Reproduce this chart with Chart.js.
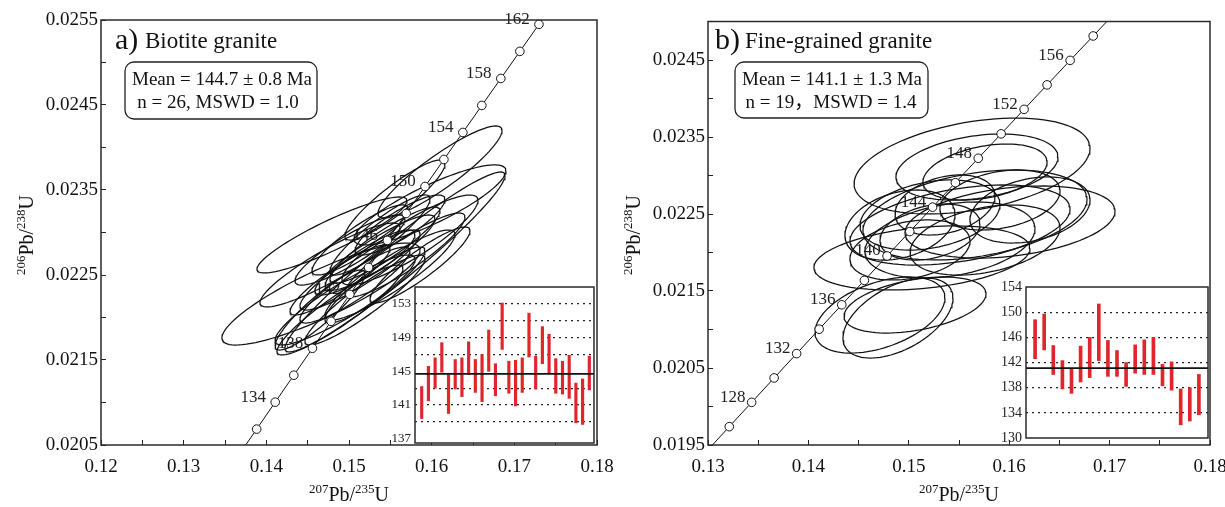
<!DOCTYPE html>
<html>
<head>
<meta charset="utf-8">
<title>U-Pb concordia diagrams</title>
<script src="https://cdn.jsdelivr.net/npm/chart.js@4.4.1/dist/chart.umd.min.js"></script>
<style>
  html, body { margin: 0; padding: 0; background: #fff; }
  #fig { position: relative; width: 1225px; height: 507px; overflow: hidden; }
  #fig canvas { position: absolute; }
</style>
</head>
<body>
<div id="fig">
  <canvas id="plotA" width="1225" height="507" style="left:0;top:0"></canvas>
  <canvas id="plotB" width="1225" height="507" style="left:0;top:0"></canvas>
  <canvas id="meanA" width="215" height="170" style="left:385px;top:278px"></canvas>
  <canvas id="meanB" width="225" height="165" style="left:990px;top:278px"></canvas>
</div>
<script>
// concordia reference points: age (Ma), 207Pb/235U, 206Pb/238U
const concordiaAge = [124, 126, 128, 130, 132, 134, 136, 138, 140, 142, 144, 146, 148, 150, 152, 154, 156, 158, 160, 162, 164];
const concordiaX = [0.129891, 0.132119, 0.134351, 0.136588, 0.138829, 0.141074, 0.143324, 0.145578, 0.147837, 0.150100, 0.152367,
                    0.154639, 0.156916, 0.159198, 0.161482, 0.163773, 0.166068, 0.168366, 0.170670, 0.172978, 0.175290];
const concordiaY = [0.019422, 0.019738, 0.020054, 0.020371, 0.020687, 0.021004, 0.021321, 0.021638, 0.021955, 0.022272, 0.022589,
                    0.022907, 0.023224, 0.023541, 0.023859, 0.024177, 0.024495, 0.024812, 0.025131, 0.025449, 0.025767];
const labelAgesA = [134, 138, 142, 146, 150, 154, 158, 162];
const labelAgesB = [128, 132, 136, 140, 144, 148, 152, 156];

// a) biotite granite: ellipse centre, 2s half width, correlation
const aX   = [0.14661, 0.14794, 0.16101, 0.15980, 0.15556, 0.15738, 0.14952, 0.14891, 0.14770, 0.15133, 0.15314, 0.15072, 0.15435,
              0.15193, 0.15375, 0.15012, 0.15496, 0.15254, 0.15677, 0.14891, 0.15617, 0.14649, 0.15133, 0.15859, 0.15314, 0.15556];
const aSX  = [0.01198, 0.00907, 0.00750, 0.00919, 0.01331, 0.00823, 0.00847, 0.00762, 0.00847, 0.00726, 0.00726, 0.00665, 0.00665,
              0.00726, 0.00605, 0.00665, 0.00786, 0.00544, 0.00726, 0.00605, 0.00544, 0.00544, 0.00581, 0.00605, 0.00605, 0.00605];
const aY   = [0.022276, 0.022971, 0.023712, 0.023324, 0.022653, 0.022912, 0.022206, 0.022088, 0.022618, 0.022559, 0.022735, 0.022382, 0.022853,
              0.022206, 0.022971, 0.022794, 0.022500, 0.022676, 0.022735, 0.022441, 0.023088, 0.022088, 0.022912, 0.022618, 0.022382, 0.023382];
const aSY  = [0.000600, 0.000447, 0.000541, 0.000471, 0.001059, 0.000529, 0.000529, 0.000529, 0.000494, 0.000471, 0.000471, 0.000447, 0.000447,
              0.000529, 0.000471, 0.000412, 0.000529, 0.000353, 0.000494, 0.000412, 0.000353, 0.000471, 0.000412, 0.000447, 0.000447, 0.000471];
const aRho = [0.86, 0.90, 0.90, 0.85, 0.96, 0.88, 0.90, 0.92, 0.90, 0.90, 0.90, 0.90, 0.90,
              0.92, 0.90, 0.88, 0.90, 0.85, 0.90, 0.90, 0.85, 0.90, 0.88, 0.90, 0.90, 0.90];

// b) fine-grained granite
const bX   = [0.15630, 0.15679, 0.15759, 0.16008, 0.15659, 0.15510, 0.15211, 0.14912, 0.15131, 0.15410, 0.15759, 0.15908, 0.15361,
              0.15012, 0.14713, 0.15062, 0.14892, 0.15211, 0.16207];
const bSX  = [0.01175, 0.00807, 0.00618, 0.01046, 0.01116, 0.01096, 0.00697, 0.00548, 0.01076, 0.00847, 0.00747, 0.00598, 0.00498,
              0.00598, 0.00647, 0.00707, 0.00548, 0.00498, 0.00598];
const bY   = [0.023123, 0.023110, 0.023045, 0.022396, 0.022487, 0.022357, 0.022487, 0.022357, 0.021929, 0.022162, 0.022162, 0.022682, 0.022617,
              0.022033, 0.021188, 0.021318, 0.021149, 0.022266, 0.022552];
const bSY  = [0.000623, 0.000429, 0.000364, 0.000468, 0.000584, 0.000520, 0.000455, 0.000455, 0.000416, 0.000494, 0.000455, 0.000390, 0.000390,
              0.000390, 0.000494, 0.000364, 0.000520, 0.000364, 0.000429];
const bRho = [0.37, 0.30, 0.35, 0.30, 0.35, 0.40, 0.30, 0.30, 0.30, 0.30, 0.35, 0.30, 0.30,
              0.30, 0.45, 0.40, 0.50, 0.30, 0.30];

// weighted mean insets: 206Pb/238U age ranges (Ma)
const aAgeLow  = [139.4, 141.5, 143.0, 144.9, 140.0, 142.9, 142.0, 144.6, 142.5, 141.4, 145.0, 142.1, 147.6,
                  142.4, 140.9, 142.5, 146.7, 142.9, 145.9, 144.8, 142.4, 142.3, 141.8, 138.9, 138.7, 142.8];
const aAgeHigh = [143.2, 145.6, 146.6, 148.4, 144.6, 146.4, 146.6, 148.5, 146.4, 147.0, 149.9, 145.9, 153.1,
                  146.2, 146.3, 146.6, 151.9, 146.8, 150.3, 149.4, 146.5, 146.2, 146.9, 143.6, 144.1, 146.8];
const bAgeLow  = [142.6, 144.0, 140.1, 137.8, 137.1, 138.9, 139.6, 142.3, 139.8, 139.8, 138.2, 140.3, 140.1, 140.1, 138.3, 137.6, 132.1, 132.7, 133.7];
const bAgeHigh = [148.8, 149.7, 144.7, 142.3, 141.0, 144.6, 146.0, 151.3, 145.5, 143.9, 142.0, 144.8, 145.6, 146.0, 141.7, 142.1, 137.8, 138.0, 140.1];
const aMean = 144.7, bMean = 141.1;
const aInsetTicks = [137, 139, 141, 143, 145, 147, 149, 151, 153];
const bInsetTicks = [130, 134, 138, 142, 146, 150, 154];

const FONT = '"Liberation Serif", "Times New Roman", "Noto Sans CJK SC", serif';
Chart.defaults.font.family = FONT;

// outline of an error ellipse (half widths sx, sy with correlation rho)
function ellipse(cx, sx, cy, sy, rho){
const pts = [], k = Math.sqrt(1 - rho*rho), n = 96;
for (let i = 0; i <= n; i++){
const t = 2*Math.PI*i/n;
pts.push({ x: cx + sx*Math.cos(t), y: cy + sy*(rho*Math.cos(t) + k*Math.sin(t)) });
}
return pts;
}

function supText(ctx, parts, x, y, big, small){
const fonts = parts.map(p => (p[1] ? small : big) + 'px ' + FONT);
let w = 0;
const ws = parts.map((p, i) => { ctx.font = fonts[i]; const m = ctx.measureText(p[0]).width; w += m; return m; });
let cx = x - w/2;
ctx.textAlign = 'left'; ctx.textBaseline = 'alphabetic';
parts.forEach((p, i) => { ctx.font = fonts[i]; ctx.fillText(p[0], cx, p[1] ? y - 8 : y); cx += ws[i]; });
}

const frame = {
id: 'frame',
afterDatasetsDraw(chart){
const a = chart.chartArea, ctx = chart.ctx;
ctx.save(); ctx.strokeStyle = '#2a2a2a'; ctx.lineWidth = 1.5;
ctx.strokeRect(a.left, a.top, a.right - a.left, a.bottom - a.top);
ctx.restore();
}
};

function concordiaChart(id, p){
const curve = concordiaAge.map((t, i) => ({ x: concordiaX[i], y: concordiaY[i] }));
const datasets = [{ data: curve, showLine: true, borderColor: '#111', borderWidth: 1, pointRadius: 0, order: 2 }];
p.ex.forEach((cx, i) => {
datasets.push({ data: ellipse(cx, p.esx[i], p.ey[i], p.esy[i], p.rho[i]), showLine: true,
borderColor: '#111', borderWidth: 1.25, pointRadius: 0, order: 1 });
});
datasets.push({ data: curve, pointRadius: 4.3, pointBackgroundColor: '#fff', pointBorderColor: '#111', pointBorderWidth: 1, order: 0 });

const ageLabels = {
id: 'ageLabels',
beforeDatasetsDraw(chart){
const ctx = chart.ctx, xs = chart.scales.x, ys = chart.scales.y;
ctx.save(); ctx.fillStyle = '#222'; ctx.font = '17px ' + FONT;
ctx.textAlign = 'center'; ctx.textBaseline = 'middle';
p.labels.forEach(age => {
const i = concordiaAge.indexOf(age);
ctx.fillText(String(age), xs.getPixelForValue(concordiaX[i]) + p.lblDx, ys.getPixelForValue(concordiaY[i]) - 5);
});
ctx.restore();
}
};

const annot = {
id: 'annot',
afterDraw(chart){
const ctx = chart.ctx, a = chart.chartArea;
ctx.save(); ctx.fillStyle = '#111';
ctx.textBaseline = 'alphabetic'; ctx.textAlign = 'left';
ctx.font = '30px ' + FONT; ctx.fillText(p.tag, p.tagX, 49);
ctx.font = '23px ' + FONT; ctx.fillText(p.title, p.titleX, 48);
ctx.strokeStyle = '#222'; ctx.lineWidth = 1.3;
ctx.beginPath(); ctx.roundRect(p.box[0], p.box[1], p.box[2], p.box[3], 9); ctx.stroke();
ctx.font = '19px ' + FONT; ctx.textAlign = 'center';
p.lines.forEach(l => ctx.fillText(l[0], l[1], l[2]));
supText(ctx, [['207', 1], ['Pb/', 0], ['235', 1], ['U', 0]], (a.left + a.right)/2, 501, 20, 13);
ctx.translate(a.left - 68, 235); ctx.rotate(-Math.PI/2);
supText(ctx, [['206', 1], ['Pb/', 0], ['238', 1], ['U', 0]], 0, 0, 20, 13);
ctx.restore();
}
};

return new Chart(document.getElementById(id), {
type: 'scatter',
data: { datasets },
options: {
responsive: false, animation: false, devicePixelRatio: 1, events: [],
layout: { padding: p.pad },
plugins: { legend: { display: false }, tooltip: { enabled: false } },
scales: {
x: {
type: 'linear', min: p.xMin, max: p.xMax,
afterFit: s => { s.height = 62; s.paddingLeft = 0; s.paddingRight = 0; },
border: { display: false },
grid: { drawOnChartArea: false, tickLength: -5, tickColor: '#222', tickWidth: 1 },
ticks: { stepSize: 0.005, autoSkip: false, maxRotation: 0, padding: 16, color: '#111', font: { size: 19 },
callback: v => Math.round(v*1000) % 10 === 0 ? v.toFixed(2) : '' }
},
y: {
type: 'linear', min: p.yMin, max: p.yMax,
afterFit: s => { s.width = 101; s.paddingTop = 0; s.paddingBottom = 0; },
border: { display: false },
grid: { drawOnChartArea: false, tickLength: -5, tickColor: '#222', tickWidth: 1 },
ticks: { stepSize: 0.0005, autoSkip: false, padding: 8, color: '#111', font: { size: 19 },
callback: v => Math.round(v*10000) % 10 === 5 ? v.toFixed(4) : '' }
}
}
},
plugins: [ageLabels, frame, annot]
});
}

const whiteBox = {
id: 'whiteBox',
beforeDraw(chart){
const a = chart.chartArea, ctx = chart.ctx;
ctx.save(); ctx.fillStyle = '#fff'; ctx.fillRect(a.left, a.top, a.right - a.left, a.bottom - a.top); ctx.restore();
}
};

function meanChart(id, p){
const bars = p.low.map((lo, i) => ({ x: i + 1, y: [lo, p.high[i]] }));
return new Chart(document.getElementById(id), {
type: 'bar',
data: { datasets: [
{ type: 'line', data: [{ x: 0, y: p.mean }, { x: p.xMax, y: p.mean }], borderColor: '#111', borderWidth: 1.6, pointRadius: 0, order: 0 },
{ type: 'bar', data: bars, backgroundColor: '#e0262b', barThickness: p.barW, order: 1 }
] },
options: {
responsive: false, animation: false, devicePixelRatio: 1, events: [],
layout: { padding: p.pad },
plugins: { legend: { display: false }, tooltip: { enabled: false } },
scales: {
x: { type: 'linear', min: 0, max: p.xMax, offset: false, display: false },
y: {
type: 'linear', min: p.yMin, max: p.yMax,
afterBuildTicks: s => { s.ticks = p.ticks.map(v => ({ value: v })); },
afterFit: s => { s.width = p.axisW; s.paddingTop = 0; s.paddingBottom = 0; },
border: { display: false, dash: [2, 4] },
grid: { drawTicks: false, lineWidth: 1.3, color: c => p.dotted.includes(c.tick.value) ? '#222' : 'rgba(0,0,0,0)' },
ticks: { padding: 4, color: '#222', font: { size: p.fontSize }, callback: v => p.labelled.includes(v) ? String(v) : '' }
}
}
},
plugins: [whiteBox, frame]
});
}

concordiaChart('plotA', {
ex: aX, esx: aSX, ey: aY, esy: aSY, rho: aRho, labels: labelAgesA, lblDx: -22,
xMin: 0.12, xMax: 0.18, yMin: 0.0205, yMax: 0.0255,
pad: { left: 0, top: 20, right: 628, bottom: 0 },
tag: 'a)', tagX: 115, title: 'Biotite granite', titleX: 145,
box: [125, 62, 192, 57],
lines: [['Mean = 144.7 ± 0.8 Ma', 222, 85], ['n = 26, MSWD = 1.0', 218, 108]]
});

concordiaChart('plotB', {
ex: bX, esx: bSX, ey: bY, esy: bSY, rho: bRho, labels: labelAgesB, lblDx: -19,
xMin: 0.13, xMax: 0.18, yMin: 0.0195, yMax: 0.025,
pad: { left: 607, top: 21.5, right: 15, bottom: 0 },
tag: 'b)', tagX: 715, title: 'Fine-grained granite', titleX: 745,
box: [735, 62, 193, 56],
lines: [['Mean = 141.1 ± 1.3 Ma', 832, 85], ['n = 19，MSWD = 1.4', 831, 108]]
});

meanChart('meanA', {
low: aAgeLow, high: aAgeHigh, mean: aMean, xMax: 26.7, barW: 2.5,
yMin: 136.5, yMax: 155, ticks: aInsetTicks,
dotted: [139, 141, 143, 147, 149, 151, 153], labelled: [137, 141, 145, 149, 153],
axisW: 30, fontSize: 13, pad: { left: 0, top: 9, right: 6, bottom: 5 }
});

meanChart('meanB', {
low: bAgeLow, high: bAgeHigh, mean: bMean, xMax: 20, barW: 3,
yMin: 130, yMax: 154, ticks: bInsetTicks,
dotted: [134, 138, 142, 146, 150], labelled: bInsetTicks,
axisW: 36, fontSize: 14, pad: { left: 0, top: 9, right: 7, bottom: 5 }
});
</script>
</body>
</html>
